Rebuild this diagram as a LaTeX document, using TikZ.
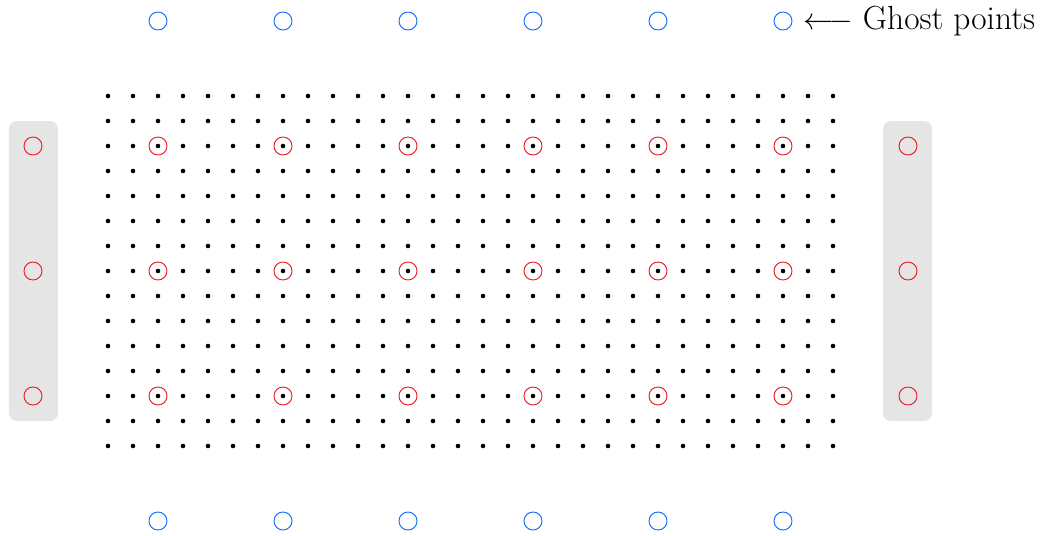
\documentclass[tikz,border=0pt]{standalone}
\usepackage{tikz}
\usepackage{xcolor}
\usetikzlibrary{positioning}
\definecolor{ghostblue}{RGB}{20,110,255}
\definecolor{ghostred}{RGB}{235,30,40}

\begin{document}
\begin{tikzpicture}[
    x=0.5cm,y=0.5cm,
    gridpt/.style={circle,fill=black,inner sep=0pt,minimum size=2.6pt},
    owned/.style={circle,draw=ghostred,line width=0.55pt,inner sep=0pt,minimum size=0.36cm},
    ghost/.style={circle,draw=ghostblue,line width=0.55pt,inner sep=0pt,minimum size=0.36cm},
    halo/.style={fill=gray!20,draw=none,rounded corners=0.16cm}
  ]
    \useasboundingbox (-4.32,-3.56) rectangle (37.64,17.84);
    % side halos
    \fill[halo] (-3.96,1) rectangle (-2,13);
    \fill[halo] (31,1) rectangle (32.96,13);
    % grid
    \foreach \i in {0,...,29}
      \foreach \j in {0,...,14}
        \node[gridpt] (p-\i-\j) at (\i,\j) {};
    % owned points
    \foreach \i in {2,7,...,27}
      \foreach \j in {2,7,12}
        \node[owned] (r-\i-\j) at (\i,\j) {};
    \foreach \j in {2,7,12} {
      \node[owned] (hl-\j) at (-3,\j) {};
      \node[owned] (hr-\j) at (32,\j) {};
    }
    % ghost points top and bottom
    \foreach \i in {2,7,...,27} {
      \node[ghost] (gt-\i) at (\i,17) {};
      \node[ghost] (gb-\i) at (\i,-3) {};
    }
    \node[right=3pt of gt-27,font=\fontsize{19}{23}\selectfont] (lbl) {$\longleftarrow$ Ghost points};
\end{tikzpicture}
\end{document}
